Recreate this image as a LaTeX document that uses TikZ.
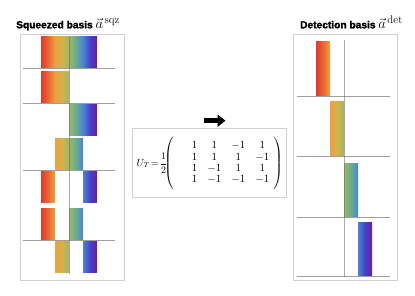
\documentclass[tikz,border=0pt]{standalone}
\usepackage{amsmath}
\usepackage{fontspec}
\usetikzlibrary{arrows.meta}
\newfontfamily\titlefont{Liberation Sans}[BoldFeatures={FakeBold=2}]
\definecolor{c0}{HTML}{E0382C}
\definecolor{c1}{HTML}{EA6634}
\definecolor{c2}{HTML}{EFA040}
\definecolor{c3}{HTML}{D6B24A}
\definecolor{c4}{HTML}{9CB866}
\definecolor{c5}{HTML}{68AC90}
\definecolor{c6}{HTML}{4A84D6}
\definecolor{c7}{HTML}{4840C8}
\definecolor{c8}{HTML}{6A1E9E}
\pgfdeclarehorizontalshading{rainbow}{100bp}{color(0bp)=(c0); color(25bp)=(c0); color(31.25bp)=(c1); color(37.5bp)=(c2); color(43.75bp)=(c3); color(50bp)=(c4); color(56.25bp)=(c5); color(62.5bp)=(c6); color(68.75bp)=(c7); color(75bp)=(c8); color(100bp)=(c8)}
\newcommand\gradbar[5]{%
  \begin{scope}
    \clip (#2,#4) rectangle (#3,#5);
    \shade[shading=rainbow] (#1,#4) rectangle ({#1+56},#5);
  \end{scope}}
\newcommand\supbig[1]{\mbox{\fontsize{11}{13}\selectfont\textnormal{#1}}}
\begin{document}
\begin{tikzpicture}[x=1pt,y=-1pt,
  frame/.style={draw=black!18, line width=0.7pt},
  axisline/.style={draw=black!38, line width=0.8pt},
  vline/.style={draw=black!60, line width=0.7pt, opacity=0.55},
  title/.style={anchor=base west, inner sep=0pt, font=\titlefont\bfseries\fontsize{10.2}{12}\selectfont},
  bigarrow/.style={line width=5pt, -{Triangle[length=8pt,width=12pt]}}
]
\useasboundingbox (0,0) rectangle (415,295);
% titles
\node[title] (ttlL) at (16,28.3) {Squeezed basis {\fontsize{14}{16}\selectfont$\vec{a}^{\,\supbig{sqz}}$}};
\node[title] (ttlR) at (300,28.3) {Detection basis {\fontsize{14}{16}\selectfont$\vec{a}^{\,\supbig{det}}$}};
% left panel
\draw[frame] (20.7,34.3) rectangle (124.3,280);
\gradbar{41}{41}{97}{36.7}{68.3}
\gradbar{41}{41}{69}{71.7}{103.3}
\gradbar{41}{69}{97}{103.3}{135}
\gradbar{41}{55}{83}{138.3}{170.7}
\gradbar{41}{41}{55}{170.7}{202.3}
\gradbar{41}{83}{97}{170.7}{202.3}
\gradbar{41}{41}{55}{208.3}{240}
\gradbar{41}{69}{83}{208.3}{240}
\gradbar{41}{55}{69}{240}{272.3}
\gradbar{41}{83}{97}{240}{272.3}
\foreach \y in {68.3,103.3,170.7,240} \draw[axisline] (22.7,\y) -- (115,\y);
\draw[vline] (69.3,36.7) -- (69.3,274);
% right panel
\draw[frame] (293.3,34.3) rectangle (397.7,280);
\gradbar{316}{316}{330}{41.3}{96.7}
\gradbar{316}{330}{344}{101.7}{156.7}
\gradbar{316}{344}{358}{163.3}{217.3}
\gradbar{316}{358}{372}{222.3}{276.7}
\foreach \y in {96.7,156.7,217.3,276.7} \draw[axisline] (297.3,\y) -- (390,\y);
\draw[vline] (344,40) -- (344,276.7);
% arrow
\coordinate (arrS) at (203.5,120.7);
\coordinate (arrE) at (225.5,120.7);
\draw[bigarrow] (arrS) -- (arrE);
% matrix
\node[draw=black!18, line width=0.7pt, minimum width=154pt, minimum height=69pt, inner sep=0pt] (box) at (209,162.5) {};
\node[anchor=west, inner sep=0pt] (mat) at (136.5,163.5)
{{\fontsize{10}{12}\selectfont$U_T\!=\!\dfrac{1}{2}$}\hspace{-3pt}{\fontsize{11}{13}\selectfont\renewcommand\arraystretch{0.86}%
$\left(\vcenter{\hbox{\rule{0pt}{52pt}}}\hspace{18pt}\begin{matrix}1&1&-1&1\\1&1&1&-1\\1&-1&1&1\\1&-1&-1&-1\end{matrix}\hspace{4pt}\right)$}};
\end{tikzpicture}
\end{document}
